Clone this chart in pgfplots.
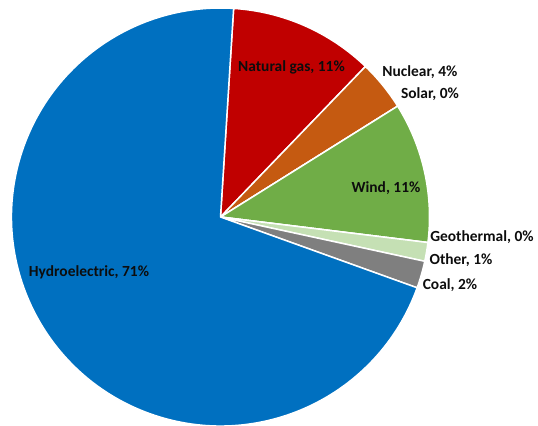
\documentclass[border=0pt]{standalone}
\usepackage{pgfplots}
\pgfplotsset{compat=1.18}
\usepackage{fontspec}
\setmainfont{Carlito}
\definecolor{hydro}{HTML}{0070C0}
\definecolor{gas}{HTML}{C00000}
\definecolor{nuclear}{HTML}{C55A11}
\definecolor{solar}{HTML}{FFC000}
\definecolor{wind}{HTML}{70AD47}
\definecolor{geo}{HTML}{A9D18E}
\definecolor{other}{HTML}{C5E0B4}
\definecolor{coal}{HTML}{7F7F7F}
% slice: value (percent), colour
\def\curang{86.4}
\newcommand\slice[2]{%
  \pgfmathsetmacro\endang{\curang-3.6*#1}%
  \edef\temp{\noexpand\fill[#2, draw=white, line width=1.5pt, line join=round]
    (axis cs:220.5,209) -- ++(\curang:209bp) arc[start angle=\curang, end angle=\endang, radius=209bp] -- cycle;}%
  \temp
  \global\let\curang\endang
}
\begin{document}
\begin{tikzpicture}
\begin{axis}[
  x=1bp, y=1bp,
  xmin=0, xmax=538, ymin=0, ymax=426,
  hide axis, clip=false,
]
\slice{11.2}{gas}
\slice{3.9}{nuclear}
\slice{0}{solar}
\slice{10.85}{wind}
\slice{0}{geo}
\slice{1.45}{other}
\slice{2.1}{coal}
\slice{70.5}{hydro}
\begin{scope}[every node/.style={font=\fontsize{15.5}{18}\selectfont\bfseries, text=black!95, inner sep=0pt}]
\node at (axis cs:291.5,359) {Natural gas, 11\%};
\node at (axis cs:420,354) {Nuclear, 4\%};
\node at (axis cs:430,332) {Solar, 0\%};
\node at (axis cs:386,238) {Wind, 11\%};
\node at (axis cs:482,189) {Geothermal, 0\%};
\node at (axis cs:461,166) {Other, 1\%};
\node at (axis cs:450,141) {Coal, 2\%};
\node at (axis cs:89,154) {Hydroelectric, 71\%};
\end{scope}
\end{axis}
\pgfresetboundingbox
\path[use as bounding box] (0,0) rectangle (538bp,426bp);
\end{tikzpicture}
\end{document}
